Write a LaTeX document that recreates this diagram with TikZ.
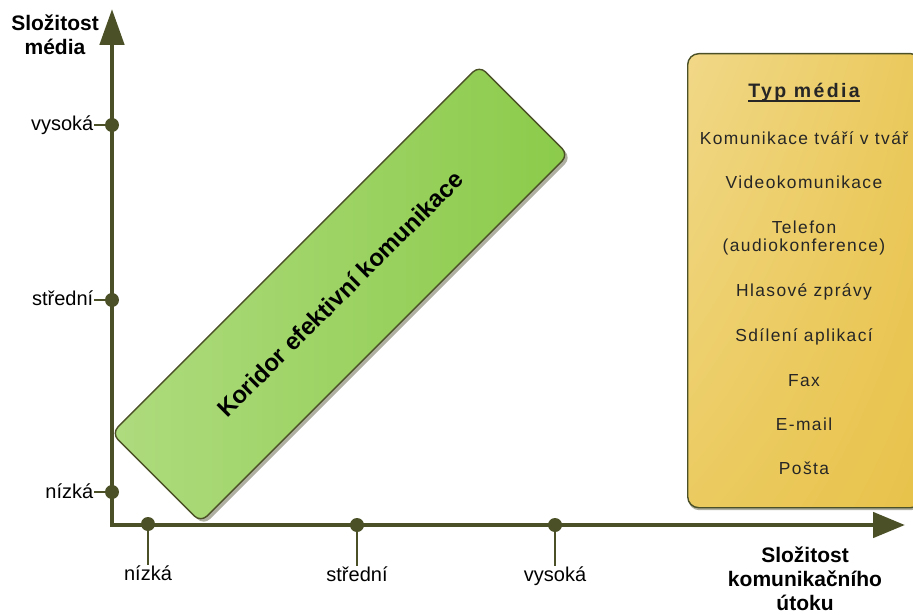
\documentclass[tikz,border=0pt]{standalone}
\usepackage{fontspec}
\setmainfont{Liberation Sans}
\usetikzlibrary{arrows.meta,shadings}

\definecolor{axisolive}{HTML}{4B5026}
\definecolor{greenlight}{HTML}{AEDB7E}
\definecolor{greendark}{HTML}{8BCB4A}
\definecolor{shadowgray}{HTML}{B0B0A2}
\definecolor{goldUL}{HTML}{F1D888}
\definecolor{goldUR}{HTML}{EAC95C}
\definecolor{goldLL}{HTML}{EBCB60}
\definecolor{goldLR}{HTML}{E8C24A}

\begin{document}
\begin{tikzpicture}[x=1pt,y=-1pt,
  axis/.style={draw=axisolive, line width=4.8pt},
  tickdot/.style={circle, fill=axisolive, minimum size=14pt, inner sep=0pt},
  tickline/.style={draw=axisolive, line width=1.8pt},
  ticklabel/.style={font=\fontsize{20}{22}\selectfont, inner sep=0.5pt},
  axislabel/.style={font=\bfseries\fontsize{21}{24}\selectfont, align=center, inner sep=0pt},
  corridor/.style={rotate=45, minimum width=520pt, minimum height=126pt,
    rounded corners=9pt, inner sep=0pt},
  mediabox/.style={anchor=north west, minimum width=234pt, minimum height=454pt,
    rounded corners=11pt, inner sep=0pt},
  itemtext/.style={anchor=base, inner sep=0pt, text=black!85,
    font=\fontsize{17.4}{20}\selectfont\addfontfeature{LetterSpace=8}},
]
\useasboundingbox (0,0) rectangle (913,615);

% axes
\coordinate (ytip) at (112,9);
\coordinate (origin) at (112,525);
\coordinate (xtip) at (905,525);
\draw[axis, miter limit=10,
  {Triangle[width=24pt,length=36pt]}-{Triangle[width=25pt,length=32pt]}]
  (ytip) -- (origin) -- (xtip);

% vertical ticks
\node[tickdot] (yh) at (112,125) {};
\node[tickdot] (ym) at (112,300) {};
\node[tickdot] (yl) at (112,492) {};
\node[ticklabel, anchor=base east] (lyh) at (94,131) {vysoká};
\node[ticklabel, anchor=base east] (lym) at (94,305) {střední};
\node[ticklabel, anchor=base east] (lyl) at (94,498) {nízká};
\draw[tickline] (lyh.east |- yh) -- (yh);
\draw[tickline] (lym.east |- ym) -- (ym);
\draw[tickline] (lyl.east |- yl) -- (yl);

% horizontal ticks
\node[ticklabel, anchor=base] (lxl) at (148,580) {nízká};
\node[ticklabel, anchor=base] (lxm) at (357,581) {střední};
\node[ticklabel, anchor=base] (lxh) at (555,581) {vysoká};
\coordinate (xl) at (148,524);
\coordinate (xm) at (357,525);
\coordinate (xh) at (555,525);
\draw[tickline] (xl) -- (lxl.north);
\draw[tickline] (xm) -- (lxm.north);
\draw[tickline] (xh) -- (lxh.north);
\node[tickdot] (dxl) at (xl) {};
\node[tickdot] (dxm) at (xm) {};
\node[tickdot] (dxh) at (xh) {};

% axis titles
\node[axislabel, anchor=north] (ytitle) at (55,15) {Složitost\\média};
\node[axislabel, anchor=north] (xtitle) at (805,547) {Složitost\\komunikačního\\útoku};

% corridor of effective communication
\node[corridor, fill=shadowgray] (corrshadow) at (343,297) {};
\node[corridor, draw=axisolive, line width=1.4pt,
  left color=greenlight, right color=greendark] (corr) at (340,294)
  {\bfseries\fontsize{24}{28}\selectfont Koridor efektivní komunikace};

% media type panel
\node[mediabox, fill=shadowgray] (mediashadow) at (688,56) {};
\node[mediabox, draw=axisolive, line width=1.4pt,
  upper left=goldUL, upper right=goldUR,
  lower left=goldLL, lower right=goldLR] (media) at (687,53) {};

\node[anchor=base, inner sep=0pt, text=black!85,
  font=\bfseries\fontsize{19.5}{22}\selectfont\addfontfeature{LetterSpace=12}]
  (mtitle) at (804,98) {Typ média};
\draw[draw=black!85, line width=1.3pt]
  ([yshift=-3pt]mtitle.base west) -- ([yshift=-3pt]mtitle.base east);

\node[itemtext] (m1) at (804,145) {Komunikace tváří v tvář};
\node[itemtext] (m2) at (804,189) {Videokomunikace};
\node[itemtext] (m3) at (804,233) {Telefon};
\node[itemtext] (m3b) at (804,251) {(audiokonference)};
\node[itemtext] (m4) at (804,296) {Hlasové zprávy};
\node[itemtext] (m5) at (804,341) {Sdílení aplikací};
\node[itemtext] (m6) at (804,386) {Fax};
\node[itemtext] (m7) at (804,430) {E-mail};
\node[itemtext] (m8) at (804,474) {Pošta};
\end{tikzpicture}
\end{document}
